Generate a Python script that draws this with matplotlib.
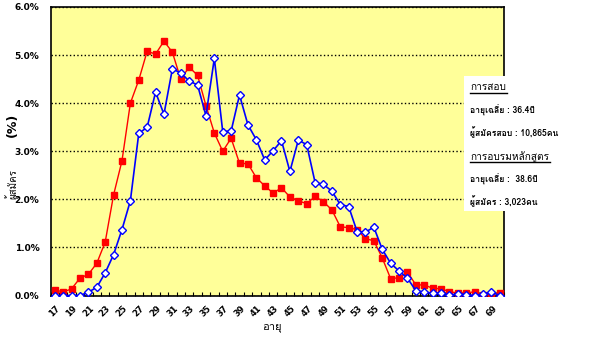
import matplotlib
matplotlib.use('Agg')
import matplotlib.pyplot as plt
import matplotlib.font_manager as fm
from matplotlib.ft2font import FT2Font
from matplotlib.patches import Rectangle
from matplotlib.lines import Line2D

# ages 17..70
ages = list(range(17, 71))

# share of exam applicants (%)
exam = [0.12, 0.07, 0.14, 0.36, 0.44, 0.67, 1.11, 2.09, 2.80, 4.00,
        4.48, 5.08, 5.02, 5.29, 5.06, 4.50, 4.75, 4.58, 3.95, 3.38,
        3.00, 3.27, 2.75, 2.74, 2.45, 2.28, 2.13, 2.24, 2.05, 1.97,
        1.91, 2.06, 1.95, 1.78, 1.43, 1.41, 1.37, 1.18, 1.14, 0.78,
        0.35, 0.37, 0.49, 0.22, 0.22, 0.15, 0.14, 0.08, 0.05, 0.05,
        0.08, 0.01, 0.02, 0.06]

# share of training applicants (%)
train = [0.00, 0.00, 0.00, 0.00, 0.07, 0.17, 0.47, 0.85, 1.37, 1.97,
         3.37, 3.50, 4.23, 3.77, 4.71, 4.63, 4.46, 4.38, 3.74, 4.93,
         3.41, 3.42, 4.17, 3.55, 3.24, 2.82, 3.01, 3.22, 2.58, 3.23,
         3.14, 2.35, 2.31, 2.17, 1.89, 1.85, 1.33, 1.32, 1.42, 0.96,
         0.67, 0.51, 0.36, 0.10, 0.07, 0.05, 0.05, 0.01, 0.03, 0.02,
         0.00, 0.03, 0.07, 0.00]

yticks = [0, 1, 2, 3, 4, 5, 6]
ytick_labels = ['0.0%', '1.0%', '2.0%', '3.0%', '4.0%', '5.0%', '6.0%']
xticks = list(range(17, 70, 2))

box_lines = [
    ('การสอบ', True),
    ('อายุเฉลี่ย : 36.4ปี', False),
    ('ผู้สมัครสอบ : 10,865คน', False),
    ('การอบรมหลักสูตร', True),
    ('อายุเฉลี่ย :  38.6ปี', False),
    ('ผู้สมัคร : 3,023คน', False),
]

# find a font that has Thai glyphs
thai = None
for f in fm.fontManager.ttflist:
    try:
        if FT2Font(f.fname).get_char_index(0x0E01):
            thai = f.name
            break
    except Exception:
        pass
fam = [thai, 'DejaVu Sans'] if thai else ['DejaVu Sans']

fig = plt.figure(figsize=(6, 3.38), dpi=100)
ax = fig.add_axes([50.6 / 600, 1 - 295.5 / 338, (504 - 50.6) / 600, (295.5 - 7) / 338])
ax.set_facecolor('#FFFF99')

ax.plot(ages, exam, color='#FF0000', lw=1, marker='s', ms=4,
        mfc='#FF0000', mec='#FF0000', zorder=3)
ax.plot(ages, train, color='#0000FF', lw=1.2, marker='D', ms=4,
        mfc='white', mec='#0000FF', mew=1, zorder=4)

ax.set_xlim(16.5, 70.5)
ax.set_ylim(0, 6)
ax.set_yticks(yticks)
ax.set_yticklabels(ytick_labels, fontsize=6.5, fontweight='bold')
ax.set_xticks(xticks)
ax.set_xticklabels([str(a) for a in xticks], rotation=45, ha='center',
                   fontsize=6, fontweight='bold')
ax.set_xticks([a + 0.5 for a in range(16, 71)], minor=True)
ax.tick_params(axis='x', which='major', length=0, pad=6)
ax.tick_params(axis='x', which='minor', direction='in', length=3, width=0.8)
ax.tick_params(axis='y', length=0, pad=8)
for s in ax.spines.values():
    s.set_linewidth(1.2)
    s.set_color('black')
ax.grid(True, axis='y', linestyle=':', color='black', lw=1)
ax.set_axisbelow(True)

fig.text(12 / 600, 1 - 125 / 338, '(%)', rotation=90, ha='center', va='center',
         fontsize=9, fontweight='bold')
fig.text(12 / 600, 1 - 184 / 338, 'ผู้สมัคร', rotation=90, ha='center', va='center',
         fontsize=7, family=fam)
fig.text(272 / 600, 1 - 327 / 338, 'อายุ', ha='center', va='center',
         fontsize=8, family=fam)

# white info box over the right edge
fig.add_artist(Rectangle((464 / 600, 1 - 210.7 / 338), 136 / 600, (210.7 - 76) / 338,
                         transform=fig.transFigure, facecolor='white',
                         edgecolor='none', zorder=5))
ys = [88, 110, 132, 157, 179, 201]
renderer = fig.canvas.get_renderer()
for (txt, head), y in zip(box_lines, ys):
    t = fig.text(470 / 600, 1 - y / 338, txt, ha='left', va='center',
                 fontsize=7.3 if head else 6.2,
                 fontweight='normal' if head else 'bold', family=fam, zorder=6)
    if head:
        bb = t.get_window_extent(renderer)
        uy = 1 - (y + 5) / 338
        fig.add_artist(Line2D([470 / 600, (bb.x1 + 1) / 600], [uy, uy],
                              transform=fig.transFigure, color='black', lw=1, zorder=6))

fig.savefig('out.png', dpi=100)
